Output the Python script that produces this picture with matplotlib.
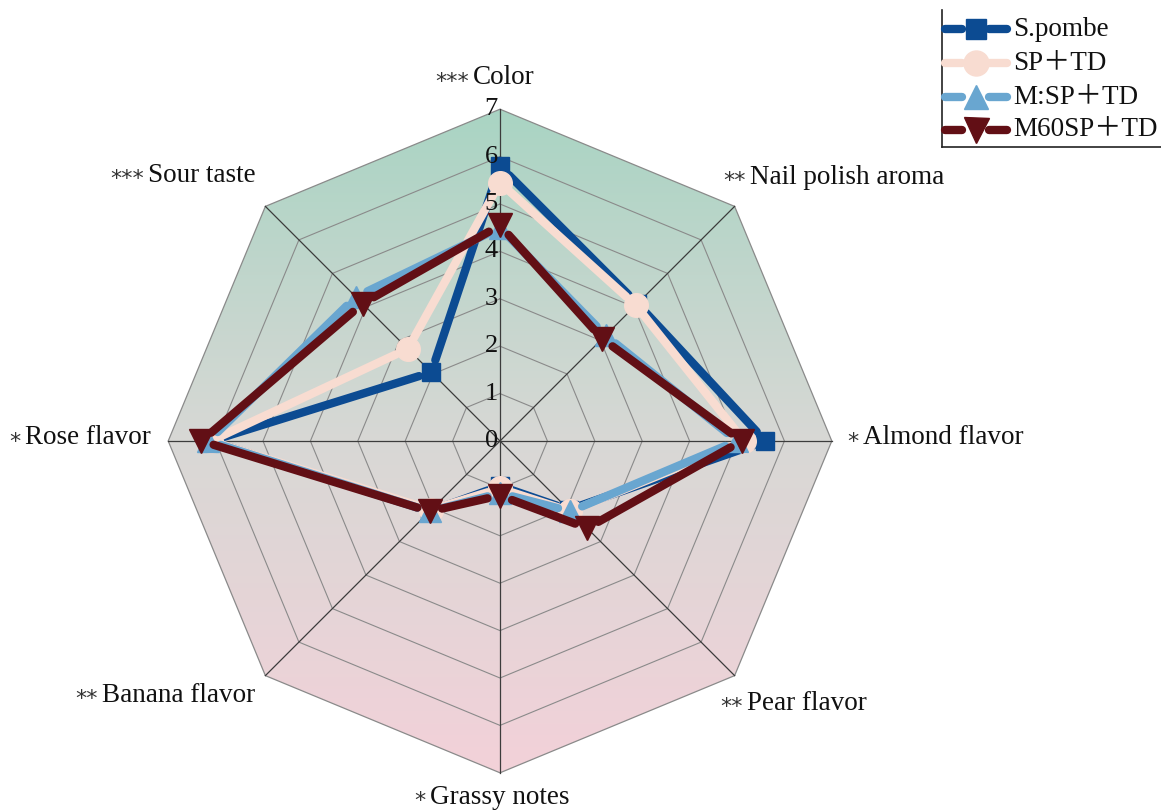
import numpy as np
import matplotlib
matplotlib.use("Agg")
import matplotlib.pyplot as plt
from matplotlib.patches import Polygon
from matplotlib.lines import Line2D
from matplotlib.colors import LinearSegmentedColormap

# sensory attributes, clockwise from the top
attributes = ["Color", "Nail polish aroma", "Almond flavor", "Pear flavor",
              "Grassy notes", "Banana flavor", "Rose flavor", "Sour taste"]
signif = ["***", "**", "*", "**", "*", "**", "*", "***"]

series_names = ["S.pombe", "SP\uff0bTD", "M:SP\uff0bTD", "M60SP\uff0bTD"]
s_pombe = [5.8, 4.1, 5.6, 2.05, 0.95, 2.1, 6.1, 2.05]
sp_td = [5.45, 4.05, 5.15, 2.1, 1.0, 2.05, 6.1, 2.75]
m_sp_td = [4.5, 3.15, 5.0, 2.1, 1.1, 2.1, 6.15, 4.3]
m60_sp_td = [4.55, 3.05, 5.1, 2.6, 1.15, 2.1, 6.3, 4.1]
ticks = [0, 1, 2, 3, 4, 5, 6, 7]

W, H = 1161, 811
unit = 47.4          # pixels per score unit
cx, cy = 500, 441    # centre in pixels (from top)
rmax = 7

serif = ["Liberation Serif", "Noto Sans CJK SC"]
fs = 19.5

fig = plt.figure(figsize=(W / 100, H / 100), dpi=100)
ax = fig.add_axes([0, 0, 1, 1])
ax.set_xlim(-cx / unit, (W - cx) / unit)
ax.set_ylim(-(H - cy) / unit, cy / unit)
ax.axis("off")

ang = np.deg2rad(90 - 45 * np.arange(len(attributes)))

# gradient background inside the outer octagon
outer = np.column_stack([rmax * np.cos(ang), rmax * np.sin(ang)])
cmap = LinearSegmentedColormap.from_list(
    "bg", [(0, "#f3d1d9"), (0.5, "#d8d8d5"), (1, "#a9d4c3")])
grad = np.linspace(0, 1, 256).reshape(-1, 1)
im = ax.imshow(grad, cmap=cmap, origin="lower", aspect="auto",
               extent=[-rmax, rmax, -rmax, rmax], zorder=0)
poly = Polygon(outer, closed=True, fc="none", ec="#8a8a8a", lw=0.9, zorder=1)
ax.add_patch(poly)
im.set_clip_path(poly)

# rings
for r in ticks[1:-1]:
    ring = np.vstack([r * np.column_stack([np.cos(ang), np.sin(ang)]),
                      [r * np.cos(ang[0]), r * np.sin(ang[0])]])
    ax.plot(ring[:, 0], ring[:, 1], color="#8a8a8a", lw=0.8, zorder=1)
# spokes
for a in ang:
    ax.plot([0, rmax * np.cos(a)], [0, rmax * np.sin(a)], color="#3c3c3c",
            lw=0.9, zorder=1)

for t in ticks:
    ax.text(-0.05, t, str(t), ha="right", va="center", fontsize=19,
            family=serif, color="#111111", zorder=6)

styles = [
    dict(color="#0c4b92", marker="s", ms=13),
    dict(color="#f8dcd1", marker="o", ms=17),
    dict(color="#69a6d0", marker="^", ms=16),
    dict(color="#620f15", marker="v", ms=17),
]
all_series = [s_pombe, sp_td, m_sp_td, m60_sp_td]
gap = 0.27
for k, (vals, st) in enumerate(zip(all_series, styles)):
    v = np.array(vals + vals[:1])
    a = np.concatenate([ang, ang[:1]])
    x, y = v * np.cos(a), v * np.sin(a)
    for i in range(len(vals)):
        dx, dy = x[i + 1] - x[i], y[i + 1] - y[i]
        d = np.hypot(dx, dy)
        if d <= 2 * gap:
            continue
        ux, uy = dx / d, dy / d
        ax.plot([x[i] + gap * ux, x[i + 1] - gap * ux],
                [y[i] + gap * uy, y[i + 1] - gap * uy],
                color=st["color"], lw=6, solid_capstyle="round", zorder=2 + k)
    ax.plot(x[:-1], y[:-1], ls="none", marker=st["marker"], ms=st["ms"],
            color=st["color"], mec=st["color"], zorder=2 + k)

# attribute labels (pixel positions of the label text start, centre y)
label_pos = [(473, 78), (750, 177), (863, 438), (747, 703),
             (430, 797), (102, 695), (25, 438), (148, 175)]
for name, sig, (px, py) in zip(attributes, signif, label_pos):
    fig.text(px / W, 1 - py / H, name, ha="left", va="center", fontsize=fs,
             family=serif, color="#111111")
    fig.text((px - 4) / W, 1 - (py + 4) / H, sig, ha="right", va="center",
             fontsize=16, family="DejaVu Sans", color="#333333")

# legend
fig.add_artist(Line2D([942 / W, 942 / W], [1 - 10 / H, 1 - 147 / H],
                      color="#222222", lw=1.2, transform=fig.transFigure))
fig.add_artist(Line2D([942 / W, 1], [1 - 147 / H, 1 - 147 / H],
                      color="#222222", lw=1.2, transform=fig.transFigure))
rows = [29, 63, 97, 130]
for name, st, ry in zip(series_names, styles, rows):
    yy = 1 - ry / H
    for x0, x1 in [(945, 962), (989, 1007)]:
        fig.add_artist(Line2D([x0 / W, x1 / W], [yy, yy], color=st["color"],
                              lw=6, solid_capstyle="round",
                              transform=fig.transFigure))
    fig.add_artist(Line2D([975.5 / W], [yy], ls="none", marker=st["marker"],
                          ms=st["ms"] + 1, color=st["color"], mec=st["color"],
                          transform=fig.transFigure))
    fig.text(1013 / W, yy, name, ha="left", va="center", fontsize=fs,
             family=serif, color="#111111")

fig.savefig("out.png", dpi=100, facecolor="white")
